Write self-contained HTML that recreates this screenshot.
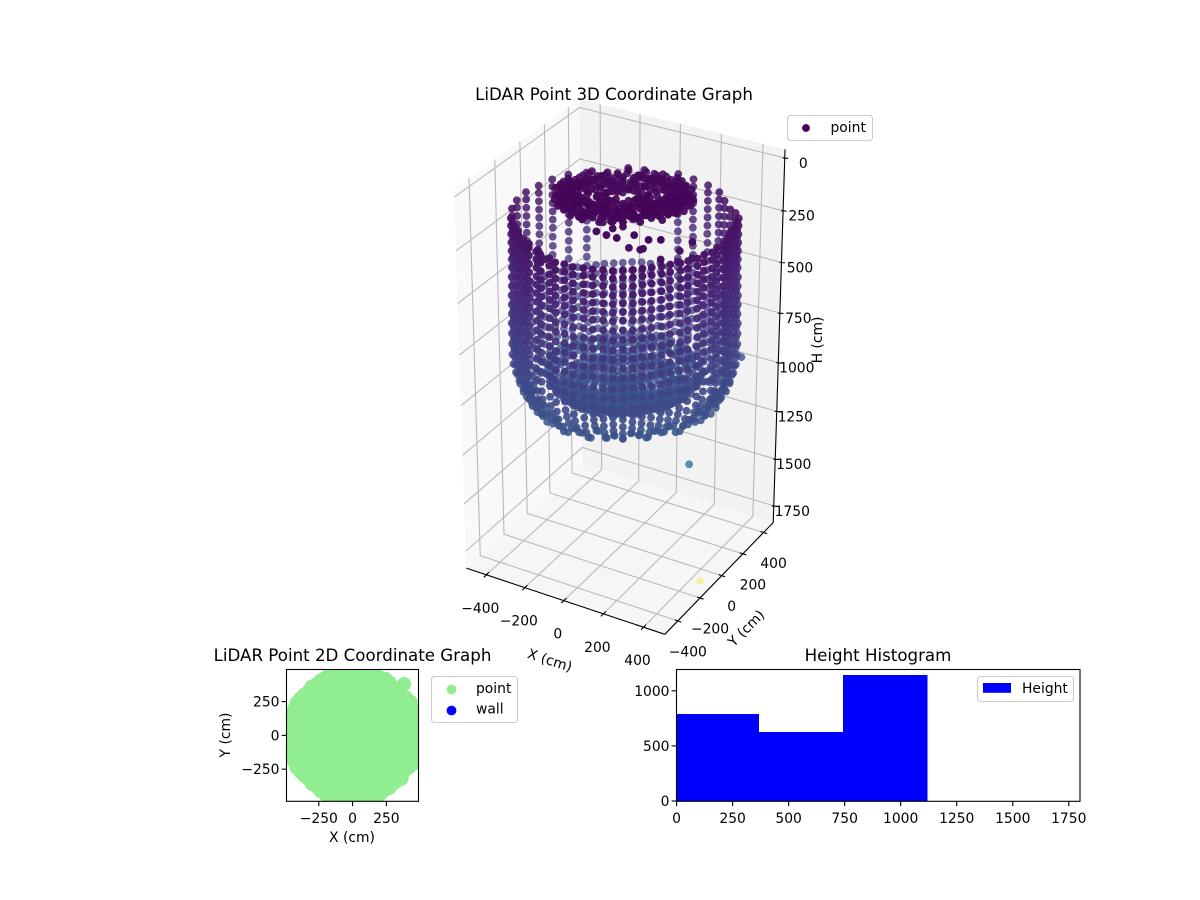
<!DOCTYPE html>
<html lang="en">
<head>
<meta charset="utf-8">
<title>LiDAR Point Graphs</title>
<style>
html,body{margin:0;padding:0;background:#fff;}
svg{display:block;}
text{font-family:"DejaVu Sans","Liberation Sans",sans-serif;font-size:13.89px;fill:#000;}
.title{font-size:16.67px;}
</style>
</head>
<body>
<svg id="fig" xmlns="http://www.w3.org/2000/svg" width="1200" height="900" viewBox="0 0 1200 900">
  <defs>
    <clipPath id="clip2d"><rect x="286.5" y="669.5" width="132" height="131.8"/></clipPath>
  </defs>
  <rect x="0" y="0" width="1200" height="900" fill="#fff"/>
  <g id="g3d"></g>
  <text class="title" x="614" y="100" text-anchor="middle">LiDAR Point 3D Coordinate Graph</text>
  <text x="550" y="665" text-anchor="middle" transform="rotate(18 550 660)">X (cm)</text>
  <text x="746" y="633" text-anchor="middle" transform="rotate(-45 746 628)">Y (cm)</text>
  <text x="817" y="345" text-anchor="middle" transform="rotate(-90 817 340)">H (cm)</text>
  <g>
    <rect x="787.5" y="115.5" width="85" height="25" rx="3" fill="#fff" fill-opacity="0.8" stroke="#ccc" stroke-width="1.1"/>
    <circle cx="806" cy="128" r="3.9" fill="#440154"/>
    <text x="830.5" y="132">point</text>
  </g>

  <g id="g2d"></g>
  <text class="title" x="352.5" y="661" text-anchor="middle">LiDAR Point 2D Coordinate Graph</text>
  <text x="352" y="842" text-anchor="middle">X (cm)</text>
  <text x="230" y="735" text-anchor="middle" transform="rotate(-90 230 735)">Y (cm)</text>
  <g>
    <rect x="431.5" y="676.5" width="86" height="46" rx="3" fill="#fff" fill-opacity="0.8" stroke="#ccc" stroke-width="1.1"/>
    <circle cx="451.5" cy="689.5" r="4.9" fill="#90ee90"/>
    <text x="476" y="693">point</text>
    <circle cx="451.5" cy="710.5" r="4.9" fill="#0000ff"/>
    <text x="476" y="713.5">wall</text>
  </g>

  <g id="ghist"></g>
  <text class="title" x="878" y="661" text-anchor="middle">Height Histogram</text>
  <g>
    <rect x="977.5" y="676.5" width="96" height="25" rx="3" fill="#fff" fill-opacity="0.8" stroke="#ccc" stroke-width="1.1"/>
    <rect x="983" y="683" width="28" height="9.8" fill="#0000ff"/>
    <text x="1022" y="693">Height</text>
  </g>
</svg>
<script>
// ---- Data ----
const azimuthDeg = [0,5,10,15,20,25,30,35,40,45,50,55,60,65,70,75,80,85,90,95,100,105,110,115,120,125,130,135,140,145,150,155,160,165,170,175,180,185,190,195,200,205,210,215,220,225,230,235,240,245,250,255,260,265,270,275,280,285,290,295,300,305,310,315,320,325,330,335,340,345,350,355];
const rangeBump = [12,6,2,-3,6,12,18,8,-8,-14,-9,1,7,-2,9,13,5,15,11,4,12,-1,6,-5,-8,-13,-6,-16,-9,-3,3,-4,5,10,3,12,9,2,11,3,7,-4,2,-6,-12,-17,-8,-13,-2,4,-3,8,1,13,10,14,3,9,-2,5,-7,-2,-11,-15,-7,-12,1,-4,7,2,10,4];
const depthBump = [14,-20,8,-11,22,-6,17,-24,5,19,-14,9,-22,12,-3,25,-16,7,-9,21,-18,3,15,-25,10,-7,23,-13,1,18,-21,6,-12,24,-4,11,-19,16,-8,20,-23,2,13,-15,26,-10,4,-17,9,-5,22,-20,7,17,-11,-2,19,-24,12,-6,15,-14,3,21,-9,8,-18,24,-1,-13,10,-22];
// rings of the scan: radius (cm), depth H (cm), azimuth slots advanced, tilt (cm), depth wobble factor
const ringRadius = [285,262,240,215,185,150,110,70,
  470,470,470,470,470,470,470,472,472,474,474,474,476,476,476,476,472,462,448,425,395,
  330,300,265,230,195,160,125,90,55,20];
const ringDepth  = [95,80,110,90,75,100,85,95,
  195,230,270,310,350,390,430,475,520,565,610,655,700,750,800,850,895,935,975,1012,1032,
  950,975,1000,1005,1010,1020,1025,1030,1030,1035];
const ringStride = [1,1,2,1,2,2,3,4,
  1,1,1,1,1,1,1,1,1,1,1,1,1,1,1,1,1,1,1,1,1,
  1,1,1,1,1,2,2,2,3,6];
const ringTilt   = [40,38,32,30,28,22,15,10,
  0,0,0,0,0,0,0,0,0,0,0,0,0,0,0,0,0,0,0,0,0,
  0,0,0,0,0,0,0,0,0,0];
const ringWobble = [1,1.2,1,1.2,1,0.8,0.8,0.5,
  0.1,0.1,0.1,0.1,0.1,0.1,0.1,0.1,0.1,0.1,0.1,0.1,0.2,0.2,0.3,0.5,0.7,0.9,1,1,1,
  0.4,0.4,0.4,0.4,0.4,0.4,0.4,0.3,0.3,0.2];
// far side of the wall: every other column only, with an opening near the top
const backArcDeg = [40,205];
const openingArcDeg = [95,130];
const openingBottomH = 640;
// individual stray returns
const strayX = [98,150,143,171,199,248,319,362,209,257,263,362,386,393,445,449,-145,-194,-132,-116,381,252,470];
const strayY = [-386,-394,-331,-296,-395,-338,-345,-320,-313,-304,-291,-320,-220,-216,-205,-212,-449,-438,-471,-441,380,150,-135];
const strayH = [60,60,60,60,60,60,60,60,140,140,140,150,200,150,100,170,180,170,230,220,950,1420,1800];
const strayShade = [0.02,0.02,0.02,0.02,0.02,0.02,0.02,0.02,0.03,0.03,0.03,0.04,0.05,0.04,0.03,0.05,0.05,0.05,0.06,0.06,0.24,0.38,1];
// tick labels
const ticks3dX = [-400,-200,0,200,400];
const ticks3dY = [-400,-200,0,200,400];
const ticks3dH = [0,250,500,750,1000,1250,1500,1750];
const ticks2d = [-250,0,250];
const histTicksX = [0,250,500,750,1000,1250,1500,1750];
const histTicksY = [0,500,1000];
// histogram
const binEdges = [0,368,743,1119];
const binCounts = [791,627,1145];

// ---- Viridis ----
const viridisStops = ['#440154','#482475','#414487','#355f8d','#2a788e','#21918c','#22a884','#44bf70','#7ad151','#bddf26','#fde725'];
function viridis(t){
  t=Math.max(0,Math.min(1,t));
  const p=t*10,i=Math.min(9,Math.floor(p)),f=p-i;
  const a=viridisStops[i],b=viridisStops[i+1],ch=[1,3,5].map(k=>{
    const x=parseInt(a.substr(k,2),16),y=parseInt(b.substr(k,2),16);
    return Math.round(x+(y-x)*f);
  });
  return 'rgb('+ch.join(',')+')';
}

const NS='http://www.w3.org/2000/svg';
function mk(parent,tag,attrs,txt){
  const e=document.createElementNS(NS,tag);
  for(const k in attrs)e.setAttribute(k,attrs[k]);
  if(txt!==undefined)e.textContent=txt;
  parent.appendChild(e);
  return e;
}
const minus=v=>String(v).replace('-','\u2212');

// ---- 3D axis functions (mplot3d-style perspective, elev 30 azim -60) ----
const xlo=-505,xhi=505,ylo=-515,yhi=495,zlo=-40,zhi=1840;
const norm=1.9057/Math.hypot(xhi-xlo,yhi-ylo,zhi-zlo);
const bx=(xhi-xlo)*norm,by=(yhi-ylo)*norm,bz=(zhi-zlo)*norm;
const W=[0.4330127,-0.75,0.5],U=[0.8660254,0.5,0],V=[-0.25,0.4330127,0.8660254];
const S=2860,CX=621.7,CY=364;
function rel(x,y,z){return [(x-xlo)/(xhi-xlo)*bx-bx/2,(y-ylo)/(yhi-ylo)*by-by/2,(zhi-z)/(zhi-zlo)*bz-bz/2];}
const dot=(a,b)=>a[0]*b[0]+a[1]*b[1]+a[2]*b[2];
function proj(x,y,z){
  const r=rel(x,y,z),d=10-dot(r,W);
  return {x:CX+S*dot(r,U)/d,y:CY-S*dot(r,V)/d,d:d};
}
const pts=l=>l.map(p=>{const q=proj(p[0],p[1],p[2]);return q.x.toFixed(2)+','+q.y.toFixed(2);}).join(' ');

const g3=document.getElementById('g3d');
const paneX=mk(g3,'polygon',{points:pts([[xlo,ylo,zlo],[xlo,yhi,zlo],[xlo,yhi,zhi],[xlo,ylo,zhi]]),fill:'#f9f9f9'});


const paneY=mk(g3,'polygon',{points:pts([[xlo,yhi,zlo],[xhi,yhi,zlo],[xhi,yhi,zhi],[xlo,yhi,zhi]]),fill:'#f2f2f2'});


const paneZ=mk(g3,'polygon',{points:pts([[xlo,ylo,zhi],[xhi,ylo,zhi],[xhi,yhi,zhi],[xlo,yhi,zhi]]),fill:'#f6f6f6'});



const gridStyle={fill:'none',stroke:'#b9b9b9','stroke-width':1.1};
ticks3dX.forEach(t=>{
  const l=mk(g3,'polyline',Object.assign({points:pts([[t,ylo,zhi],[t,yhi,zhi],[t,yhi,zlo]])},gridStyle));
  
  
});
ticks3dY.forEach(t=>{
  const l=mk(g3,'polyline',Object.assign({points:pts([[xhi,t,zhi],[xlo,t,zhi],[xlo,t,zlo]])},gridStyle));
  
  
});
ticks3dH.forEach(t=>{
  const l=mk(g3,'polyline',Object.assign({points:pts([[xhi,yhi,t],[xlo,yhi,t],[xlo,ylo,t]])},gridStyle));
  
  
});

const axisStyle={fill:'none',stroke:'#000','stroke-width':1.1};
const axX=mk(g3,'polyline',Object.assign({points:pts([[xlo,ylo,zhi],[xhi,ylo,zhi]])},axisStyle));


const axY=mk(g3,'polyline',Object.assign({points:pts([[xhi,ylo,zhi],[xhi,yhi,zhi]])},axisStyle));


const axZ=mk(g3,'polyline',Object.assign({points:pts([[xhi,yhi,zhi],[xhi,yhi,zlo]])},axisStyle));



ticks3dX.forEach(t=>{
  const p=proj(t,ylo,zhi);
  const m=mk(g3,'line',{x1:p.x-2.5,y1:p.y+2.5,x2:p.x+2.5,y2:p.y-2.5,stroke:'#000','stroke-width':1.1});
  
  
  const l=mk(g3,'text',{x:p.x-6,y:p.y+38,'text-anchor':'middle'},minus(t));
  
  
});
ticks3dY.forEach(t=>{
  const p=proj(xhi,t,zhi);
  const m=mk(g3,'line',{x1:p.x-3,y1:p.y-1,x2:p.x+3.5,y2:p.y+1.2,stroke:'#000','stroke-width':1.1});
  
  
  const l=mk(g3,'text',{x:p.x+10,y:p.y+35.5,'text-anchor':'middle'},minus(t));
  
  
});
ticks3dH.forEach(t=>{
  const p=proj(xhi,yhi,t);
  const m=mk(g3,'line',{x1:p.x-2,y1:p.y,x2:p.x+3.5,y2:p.y+0.5,stroke:'#000','stroke-width':1.1});
  
  
  const l=mk(g3,'text',{x:p.x+18.5,y:p.y+10,'text-anchor':'middle'},String(t));
  
  
});

// ---- Point cloud built from the arrays ----
const colourMax=4000;
const cloud=[];
ringRadius.forEach((r,i)=>{
  const isWall=r>=460;
  const upper=ringDepth[i]<openingBottomH;
  for(let k=0;k<azimuthDeg.length;k+=ringStride[i]){
    const deg=azimuthDeg[k];
    if(isWall&&upper&&deg>=backArcDeg[0]&&deg<=backArcDeg[1]&&k%2===1)continue;
    if(isWall&&upper&&deg>=openingArcDeg[0]&&deg<=openingArcDeg[1])continue;
    const a=deg*Math.PI/180,rr=r*(1+rangeBump[k]/470);
    const forward=0.5*Math.cos(a)-0.866*Math.sin(a);
    const h=ringDepth[i]+ringWobble[i]*depthBump[k]-ringTilt[i]*forward;
    cloud.push({x:rr*Math.cos(a),y:rr*Math.sin(a),h:h,c:h/colourMax});
  }
});
strayX.forEach((x,i)=>{
  cloud.push({x:x,y:strayY[i],h:strayH[i],c:strayShade[i]});
});

const projected=cloud.map(p=>Object.assign({},p,proj(p.x,p.y,p.h)));
const dMin=Math.min.apply(null,projected.map(p=>p.d)),dMax=Math.max.apply(null,projected.map(p=>p.d));
projected.sort((a,b)=>b.d-a.d);
const gPts=mk(g3,'g',{});


projected.forEach(p=>{
  const n=(p.d-dMin)/(dMax-dMin);
  const alpha=p.c>=1?0.4:1-0.26*n;
  const c=mk(gPts,'circle',{cx:p.x.toFixed(2),cy:p.y.toFixed(2),r:3.9,fill:viridis(p.c),'fill-opacity':alpha.toFixed(3)});
  
  
});

// ---- 2D scatter ----
const g2=document.getElementById('g2d');
const sx2=v=>352.6+v*0.1352,sy2=v=>735.4-v*0.1352;
const bg2=mk(g2,'rect',{x:286.5,y:669.5,width:132,height:131.8,fill:'#fff'});


const clip2=mk(g2,'g',{'clip-path':'url(#clip2d)'});


cloud.forEach(p=>{
  const c=mk(clip2,'circle',{cx:sx2(p.x).toFixed(2),cy:sy2(p.y).toFixed(2),r:7,fill:'#90ee90'});
  
  
});
const fr2=mk(g2,'rect',{x:286.5,y:669.5,width:132,height:131.8,fill:'none',stroke:'#000','stroke-width':1.1});


ticks2d.forEach(t=>{
  const mx=mk(g2,'line',{x1:sx2(t),x2:sx2(t),y1:801.3,y2:806.2,stroke:'#000','stroke-width':1.1});
  
  
  const lx=mk(g2,'text',{x:sx2(t),y:823,'text-anchor':'middle'},minus(t));
  
  
  const my=mk(g2,'line',{x1:281.6,x2:286.5,y1:sy2(t),y2:sy2(t),stroke:'#000','stroke-width':1.1});
  
  
  const ly=mk(g2,'text',{x:279.5,y:sy2(t)+5,'text-anchor':'end'},minus(t));
  
  
});

// ---- Histogram ----
const gh=document.getElementById('ghist');
const sxh=v=>676.6+v*0.2241,syh=v=>801-v*0.1102;
const bgh=mk(gh,'rect',{x:676.5,y:669.5,width:403.5,height:131.8,fill:'#fff'});


binCounts.forEach((v,i)=>{
  const b=mk(gh,'rect',{x:sxh(binEdges[i]),y:syh(v),width:sxh(binEdges[i+1])-sxh(binEdges[i]),height:syh(0)-syh(v),fill:'#0000ff','shape-rendering':'crispEdges'});
  
  
});
const frh=mk(gh,'rect',{x:676.5,y:669.5,width:403.5,height:131.8,fill:'none',stroke:'#000','stroke-width':1.1});


histTicksX.forEach(t=>{
  const m=mk(gh,'line',{x1:sxh(t),x2:sxh(t),y1:801.3,y2:806.2,stroke:'#000','stroke-width':1.1});
  
  
  const l=mk(gh,'text',{x:sxh(t),y:823,'text-anchor':'middle'},String(t));
  
  
});
histTicksY.forEach(t=>{
  const m=mk(gh,'line',{x1:671.6,x2:676.5,y1:syh(t),y2:syh(t),stroke:'#000','stroke-width':1.1});
  
  
  const l=mk(gh,'text',{x:669.5,y:syh(t)+5,'text-anchor':'end'},String(t));
  
  
});
</script>
</body>
</html>
